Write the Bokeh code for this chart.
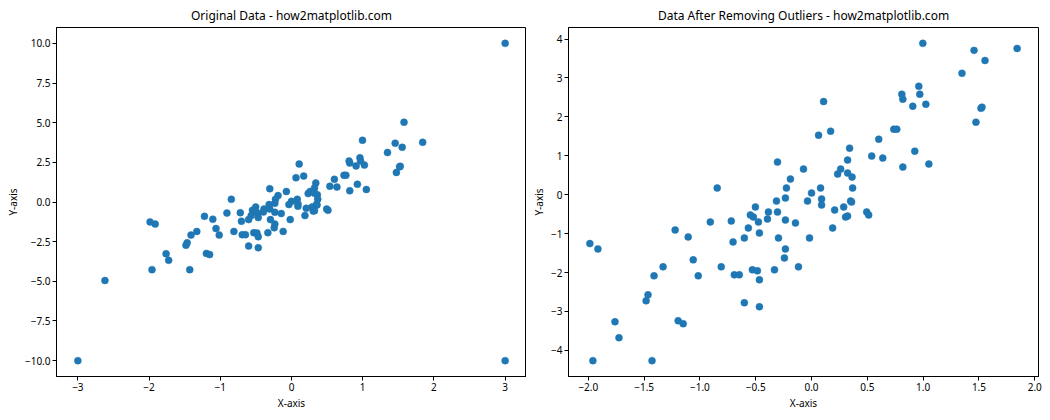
from bokeh.plotting import figure
from bokeh.layouts import row
from bokeh.models import FixedTicker, CustomJSTickFormatter, ColumnDataSource
from bokeh.embed import file_html
from bokeh.resources import INLINE

# ---- data ----
x_clean = [-1.986, -1.914, -0.845, -0.907, -0.719, -1.222, -1.105, -0.703, -1.060, -1.330,
           -0.809, -1.411, -1.015, -0.692, -1.465, -1.482, -1.761, -1.195, -1.150, -1.725,
           -1.959, -1.429,
           0.108, 0.063, 0.171, 0.341, 0.323, -0.305, -0.072, 0.261, 0.234, 0.323,
           0.363, -0.189, -0.225, 0.081, 0.368, 0.000, -0.234, -0.314, -0.036, 0.090,
           0.090, 0.350, 0.359, -0.503, -0.386, -0.305, 0.207, 0.288, -0.548, -0.521,
           -0.476, -0.395, 0.305, 0.323, -0.234, -0.144, -0.566, 0.189, -0.467, -0.602,
           -0.296, -0.018, -0.234, -0.243, -0.117, -0.647, -0.530, -0.485, -0.332, -0.467,
           -0.602, -0.467,
           0.997, 1.456, 1.842, 1.554, 1.348, 0.961, 0.809, 0.970, 0.818, 0.907,
           1.024, 1.518, 1.527, 1.473, 0.737, 0.764, 0.602, 0.925, 0.539, 0.638,
           0.818, 1.051, 0.494, 0.512]
y_clean = [-1.256, -1.393, 0.172, -0.700, -0.675, -0.906, -1.085, -1.214, -1.675, -1.855,
           -1.855, -2.085, -2.085, -2.060, -2.573, -2.727, -3.265, -3.240, -3.316, -3.675,
           -4.265, -4.265,
           2.393, 1.530, 1.633, 1.197, 0.889, 0.838, 0.658, 0.658, 0.530, 0.556,
           0.453, 0.402, 0.172, 0.172, 0.172, 0.043, -0.086, -0.163, -0.163, -0.111,
           -0.265, -0.163, -0.188, -0.316, -0.445, -0.445, -0.393, -0.316, -0.521, -0.573,
           -0.700, -0.624, -0.573, -0.547, -0.650, -0.727, -0.855, -0.855, -0.983, -1.111,
           -1.111, -1.111, -1.393, -1.624, -1.855, -2.060, -1.931, -1.957, -1.931, -2.187,
           -2.777, -2.880,
           3.890, 3.710, 3.760, 3.450, 3.120, 2.787, 2.582, 2.582, 2.454, 2.274,
           2.326, 2.220, 2.250, 1.864, 1.685, 1.685, 1.428, 1.120, 0.992, 0.941,
           0.710, 0.787, -0.444, -0.521]

# points present only in the original data
x_removed = [-2.62, 1.58]
y_removed = [-4.95, 5.03]
x_outliers = [-3.0, 3.0, 3.0]
y_outliers = [-10.0, 10.0, -10.0]

x_orig = x_clean + x_removed + x_outliers
y_orig = y_clean + y_removed + y_outliers

titles = ["Original Data - how2matplotlib.com",
          "Data After Removing Outliers - how2matplotlib.com"]
x_label = "X-axis"
y_label = "Y-axis"

left_xticks = [-3, -2, -1, 0, 1, 2, 3]
left_xlabels = ["\u22123", "\u22122", "\u22121", "0", "1", "2", "3"]
left_yticks = [-10, -7.5, -5, -2.5, 0, 2.5, 5, 7.5, 10]
left_ylabels = ["\u221210.0", "\u22127.5", "\u22125.0", "\u22122.5", "0.0", "2.5", "5.0", "7.5", "10.0"]
right_xticks = [-2, -1.5, -1, -0.5, 0, 0.5, 1, 1.5, 2]
right_xlabels = ["\u22122.0", "\u22121.5", "\u22121.0", "\u22120.5", "0.0", "0.5", "1.0", "1.5", "2.0"]
right_yticks = [-4, -3, -2, -1, 0, 1, 2, 3, 4]
right_ylabels = ["\u22124", "\u22123", "\u22122", "\u22121", "0", "1", "2", "3", "4"]

COLOR = "#1f77b4"
FONT = "Noto Sans"


def padded(vals, frac=0.05):
    lo, hi = min(vals), max(vals)
    m = (hi - lo) * frac
    return (lo - m, hi + m)


def fmt(tv, tl):
    return CustomJSTickFormatter(args=dict(tv=tv, tl=tl), code="""
        for (let i = 0; i < tv.length; i++) {
            if (Math.abs(tv[i] - tick) < 1e-9) return tl[i];
        }
        return '';
    """)


def make(xs, ys, title, xt, xl, yt, yl, width, bl, br):
    p = figure(width=width, height=420, output_backend="svg", toolbar_location=None,
               x_range=padded(xs), y_range=padded(ys),
               min_border_left=bl, min_border_right=br, min_border_top=27, min_border_bottom=44)
    src = ColumnDataSource(dict(x=xs, y=ys))
    p.scatter("x", "y", source=src, size=7, fill_color=COLOR, line_color=COLOR, line_width=0.5)
    p.title.text = title
    p.title.align = "center"
    p.title.text_font = FONT
    p.title.text_font_size = "12px"
    p.title.text_font_style = "normal"
    p.title.text_color = "black"
    p.title.standoff = 7
    p.grid.visible = False
    p.outline_line_color = "black"
    p.outline_line_alpha = 1
    p.outline_line_width = 1
    p.background_fill_color = "white"
    p.border_fill_color = "white"
    for ax, t, l, lab in ((p.xaxis[0], xt, xl, x_label), (p.yaxis[0], yt, yl, y_label)):
        ax.ticker = FixedTicker(ticks=t)
        ax.formatter = fmt(t, l)
        ax.axis_label = lab
        ax.axis_label_text_font = FONT
        ax.axis_label_text_font_size = "10px"
        ax.axis_label_text_font_style = "normal"
        ax.axis_label_text_color = "black"
        ax.axis_label_standoff = 2
        ax.major_label_text_font = FONT
        ax.major_label_text_font_size = "10px"
        ax.major_label_text_color = "black"
        ax.major_label_standoff = 2
        ax.major_tick_out = 4
        ax.major_tick_in = 0
        ax.minor_tick_out = 0
        ax.minor_tick_in = 0
        ax.axis_line_color = "black"
        ax.major_tick_line_color = "black"
    return p


p1 = make(x_orig, y_orig, titles[0], left_xticks, left_xlabels, left_yticks, left_ylabels,
          width=526, bl=56, br=0)
p2 = make(x_clean, y_clean, titles[1], right_xticks, right_xlabels, right_yticks, right_ylabels,
          width=524, bl=42, br=12)

layout = row(p1, p2)
open("out.html", "w").write(file_html(layout, INLINE))
